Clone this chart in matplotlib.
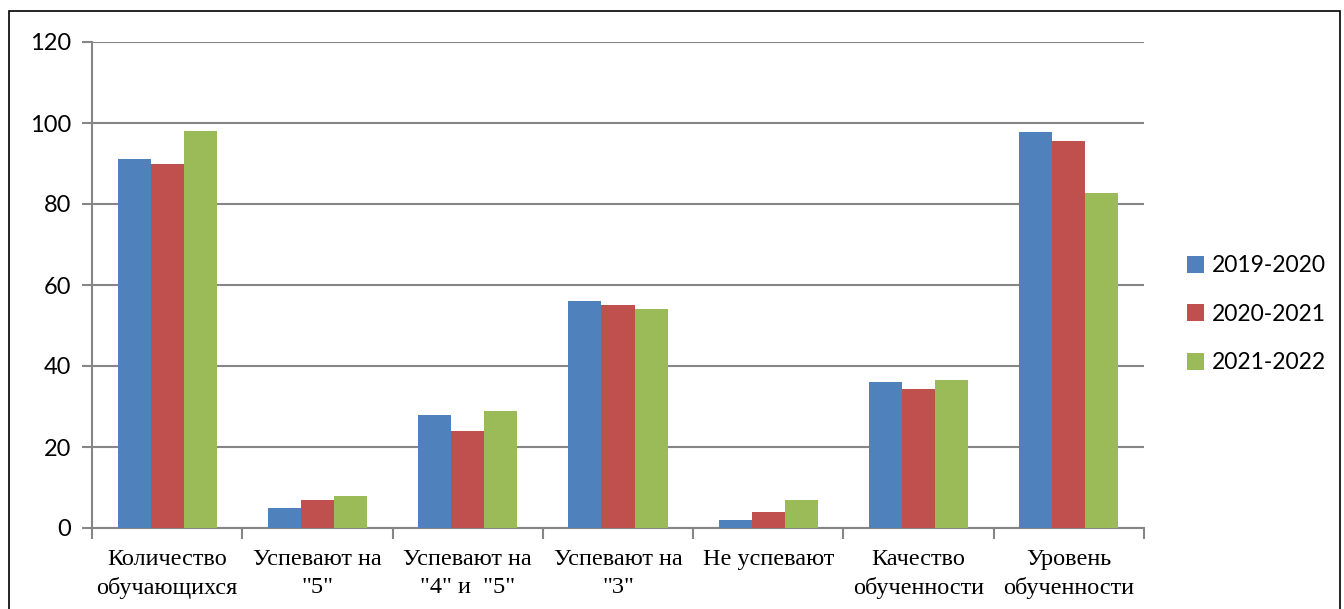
import matplotlib.pyplot as plt
import numpy as np
from matplotlib.patches import Rectangle

categories = ['Количество\nобучающихся', 'Успевают на\n"5"', 'Успевают на\n"4" и  "5"',
              'Успевают на\n"3"', 'Не успевают', 'Качество\nобученности', 'Уровень\nобученности']
years = ['2019-2020', '2020-2021', '2021-2022']
v2019 = [91, 5, 28, 56, 2, 36.1, 97.7]
v2020 = [90, 7, 24, 55, 4, 34.2, 95.5]
v2021 = [98, 8, 29, 54, 7, 36.6, 82.6]
colors = ['#4f81bd', '#c0504d', '#9bbb59']

fig = plt.figure(figsize=(13.44, 6.09), dpi=100)
ax = fig.add_axes([92/1344, 1 - 528/609, (1144-92)/1344, (528-42)/609])

x = np.arange(len(categories))
w = 0.22
for i, (vals, lab) in enumerate(zip([v2019, v2020, v2021], years)):
    ax.bar(x + (i - 1) * w, vals, width=w, color=colors[i], label=lab, zorder=3)

ax.set_xlim(-0.5, len(categories) - 0.5)
ax.set_ylim(0, 120)
ax.set_yticks(range(0, 121, 20))
ax.yaxis.grid(True, color='#868686', linewidth=1.5, zorder=0)

for s in ['top', 'right']:
    ax.spines[s].set_visible(False)
for s in ['left', 'bottom']:
    ax.spines[s].set_color('#868686')
    ax.spines[s].set_linewidth(1.5)

ax.set_xticks(x)
ax.set_xticklabels(categories, family='Liberation Serif', fontsize=17.5, linespacing=1.45)
ax.tick_params(axis='x', length=0, pad=15)
ax.set_xticks(np.arange(-0.5, len(categories)), minor=True)
ax.tick_params(axis='x', which='minor', length=8, width=1.5, color='#868686')
ax.tick_params(axis='y', length=7, width=1.5, color='#868686', labelsize=17, pad=8)
for t in ax.get_yticklabels():
    t.set_family('Lato')

leg = ax.legend(loc='center left', bbox_to_anchor=(1.03, 0.44), frameon=False,
                prop={'family': 'Lato', 'size': 16.5}, handlelength=0.75, handleheight=0.75,
                labelspacing=1.2, handletextpad=0.35, borderpad=0)

fig.patches.append(Rectangle((9/1344, -0.01), (1340-9)/1344, 1 - 11/609 + 0.01,
                             transform=fig.transFigure, fill=False, edgecolor='black',
                             linewidth=1.2))

fig.savefig('out.png', dpi=100)
